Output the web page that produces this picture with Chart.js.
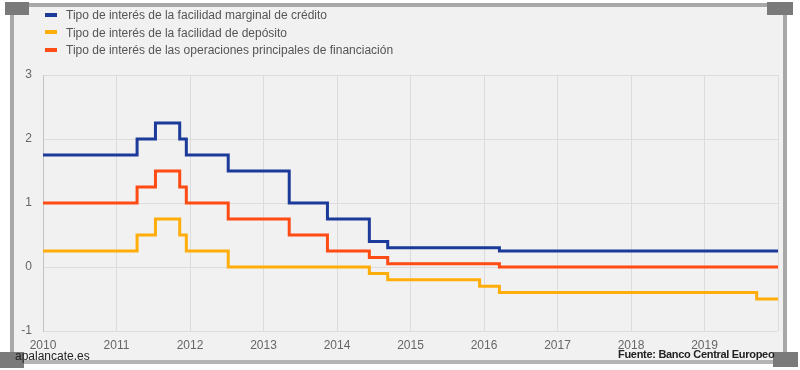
<!DOCTYPE html>
<html>
<head>
<meta charset="utf-8">
<script src="https://cdn.jsdelivr.net/npm/chart.js@4"></script>
<style>
  body { margin: 0; background: #fff; font-family: "Liberation Sans", Arial, sans-serif; }
  #wrap { position: relative; width: 800px; height: 370px; overflow: hidden; }
  #board { position: absolute; left: 12px; top: 5px; width: 773px; height: 357px; background: #f1f1f1; }
  .bar { position: absolute; background: #a8a8a8; }
  .corner { position: absolute; background: #7a7a7a; }
  #chart { position: absolute; left: 0; top: 0; }
  #legend { position: absolute; left: 45px; top: 7px; font-size: 12px; color: #555; }
  #legend div { height: 17.5px; line-height: 17px; white-space: nowrap; }
  #legend span { display: inline-block; width: 12px; height: 4px; margin-right: 9px; vertical-align: middle; position: relative; top: -1px; }
  .mark { position: absolute; color: #222; white-space: nowrap; }
</style>
</head>
<body>
<div id="wrap">
  <div id="board"></div>
  <div class="bar" style="left:10px;top:3px;width:780px;height:4px;"></div>
  <div class="bar" style="left:10px;top:5px;width:4px;height:355px;"></div>
  <div class="bar" style="left:783px;top:5px;width:4px;height:355px;"></div>
  <div class="bar" style="left:12px;top:360px;width:775px;height:4px;background:#b4b4b4;"></div>
  <div class="corner" style="left:5px;top:2px;width:24px;height:13px;"></div>
  <div class="corner" style="left:767px;top:2px;width:26px;height:13px;"></div>
  <div class="corner" style="left:0px;top:352px;width:24px;height:16px;"></div>
  <div class="corner" style="left:773px;top:352px;width:25px;height:15px;"></div>
  <canvas id="chart" width="800" height="370"></canvas>
  <div id="legend"></div>
  <div class="mark" style="left:15px;top:349px;font-size:12px;">apalancate.es</div>
  <div class="mark" style="left:618px;top:348px;font-size:11px;font-weight:bold;letter-spacing:-0.3px;">Fuente: Banco Central Europeo</div>
</div>
<script>
// Fechas de cambio de tipos (años decimales)
const dates = [2010.0, 2011.28, 2011.53, 2011.86, 2011.95, 2012.52, 2013.35, 2013.87, 2014.44, 2014.69, 2015.94, 2016.21, 2019.71, 2020.0];
const marginalRates = [1.75, 2.00, 2.25, 2.00, 1.75, 1.50, 1.00, 0.75, 0.40, 0.30, 0.30, 0.25, 0.25, 0.25];
const depositRates = [0.25, 0.50, 0.75, 0.50, 0.25, 0.00, 0.00, 0.00, -0.10, -0.20, -0.30, -0.40, -0.50, -0.50];
const mainRates = [1.00, 1.25, 1.50, 1.25, 1.00, 0.75, 0.50, 0.25, 0.15, 0.05, 0.05, 0.00, 0.00, 0.00];
const yearTicks = [2010, 2011, 2012, 2013, 2014, 2015, 2016, 2017, 2018, 2019];

const seriesNames = [
  "Tipo de interés de la facilidad marginal de crédito",
  "Tipo de interés de la facilidad de depósito",
  "Tipo de interés de las operaciones principales de financiación"
];
const seriesColors = ['#1b3a9a', '#ffad0a', '#ff4b14'];

function toPoints(values) {
  return dates.map((d, i) => ({ x: d, y: values[i] }));
}

const ctx = document.getElementById('chart').getContext('2d');
const chart = new Chart(ctx, {
  type: 'line',
  data: {
    datasets: [
      { label: seriesNames[0], data: toPoints(marginalRates), borderColor: seriesColors[0] },
      { label: seriesNames[1], data: toPoints(depositRates), borderColor: seriesColors[1] },
      { label: seriesNames[2], data: toPoints(mainRates), borderColor: seriesColors[2] }
    ]
  },
  options: {
    responsive: false,
    animation: false,
    layout: { padding: { left: 0, right: 22, top: 75, bottom: 0 } },
    plugins: { legend: { display: false }, tooltip: { enabled: false } },
    elements: {
      point: { radius: 0 },
      line: { borderWidth: 3, stepped: 'before', fill: false }
    },
    scales: {
      x: {
        type: 'linear',
        min: 2010,
        max: 2020,
        afterFit(scale) { scale.height = 39; },
        afterBuildTicks(scale) { scale.ticks = yearTicks.concat([2020]).map(v => ({ value: v })); },
        ticks: {
          padding: 7,
          color: '#666',
          font: { size: 12, family: '"Liberation Sans", Arial, sans-serif' },
          maxRotation: 0,
          autoSkip: false,
          callback: v => yearTicks.includes(v) ? String(v) : ''
        },
        grid: { color: '#dcdcdc', drawTicks: false },
        border: { display: false }
      },
      y: {
        min: -1,
        max: 3,
        afterFit(scale) { scale.width = 43; },
        ticks: {
          stepSize: 1,
          padding: 11,
          color: '#666',
          font: { size: 12, family: '"Liberation Sans", Arial, sans-serif' }
        },
        grid: { color: '#dcdcdc', drawTicks: false },
        border: { color: '#c4c4c4' }
      }
    }
  }
});

// Leyenda en HTML, una entrada por línea
const legend = document.getElementById('legend');
chart.data.datasets.forEach(ds => {
  const row = document.createElement('div');
  const sw = document.createElement('span');
  sw.style.background = ds.borderColor;
  row.appendChild(sw);
  row.appendChild(document.createTextNode(ds.label));
  legend.appendChild(row);
});
</script>
</body>
</html>
